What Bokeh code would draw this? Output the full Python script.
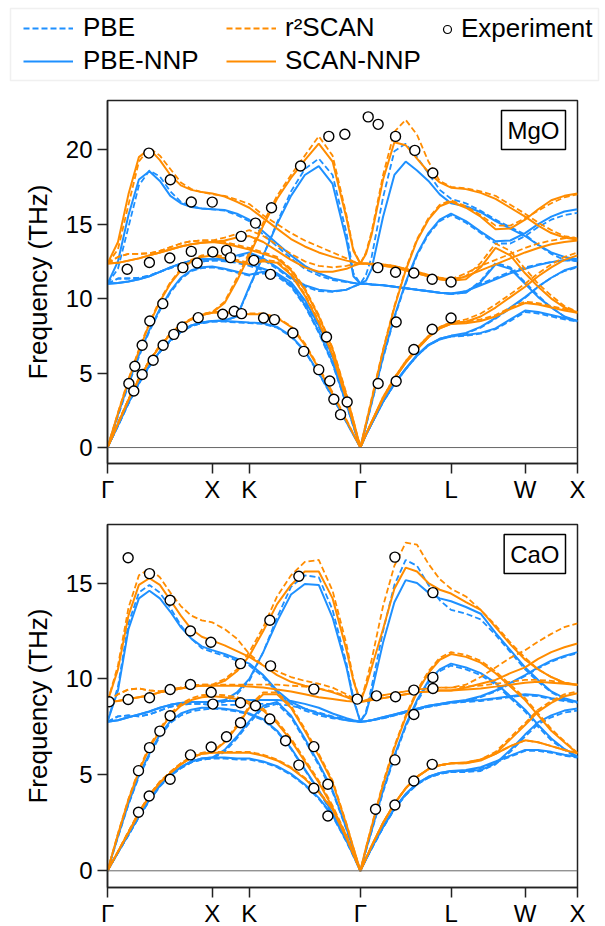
from bokeh.plotting import figure
from bokeh.models import (Range1d, FixedTicker, Span, Label, Legend, LegendItem,
                          CustomJSTickFormatter, BoxAnnotation)
from bokeh.layouts import column
from bokeh.embed import file_html
from bokeh.resources import INLINE

FONT = "Liberation Sans"
BLUE = "#1E90FF"
ORANGE = "#FF8C00"
AXIS_COLOR = "#222222"

# wave-vector path coordinates (Γ-X-K-Γ-L-W-X, units of 2π/a)
Q = [0.0, 0.1, 0.2, 0.3, 0.4, 0.5, 0.6, 0.7, 0.8, 0.9, 1.0,
     1.118, 1.236, 1.354,
     1.487, 1.619, 1.752, 1.884, 2.017, 2.149, 2.282, 2.348, 2.414,
     2.468, 2.522, 2.631, 2.739, 2.847, 2.955, 3.064, 3.172, 3.280,
     3.422, 3.563, 3.705, 3.846, 3.987,
     4.112, 4.237, 4.362, 4.487]
SYM_Q = [0.0, 1.0, 1.3536, 2.4142, 3.2802, 3.9873, 4.4873]
SYM_LABELS = ["Γ", "X", "K", "Γ", "L", "W", "X"]

# ---------------- MgO (THz) ----------------
MGO_PBE = [
    [0, 1.45, 2.95, 4.3, 5.45, 6.4, 7.15, 7.75, 8.15, 8.35, 8.45, 8.45, 8.4, 8.35, 8.3, 8.05, 7.45, 6.45, 4.95, 3.35, 1.7, 0.85, 0, 0.85, 1.6, 3.05, 4.25, 5.25, 6.15, 6.85, 7.25, 7.45, 7.5, 7.65, 7.95, 8.5, 9.1, 9.0, 8.8, 8.6, 8.45],
    [0, 1.45, 2.95, 4.3, 5.45, 6.4, 7.15, 7.75, 8.15, 8.35, 8.45, 8.5, 8.8, 10.7, 12.9, 15.1, 17.2, 18.7, 19.4, 18.3, 14.4, 11.7, 11.0, 11.6, 12.8, 16.8, 19.9, 20.4, 19.5, 18.4, 17.3, 16.7, 16.4, 15.9, 15.3, 14.8, 14.3, 13.6, 13.0, 12.6, 12.5],
    [0, 2.1, 4.2, 6.1, 7.8, 9.2, 10.4, 11.3, 11.85, 12.05, 12.1, 11.95, 11.75, 11.55, 11.7, 11.5, 10.8, 9.5, 7.7, 5.6, 2.85, 1.4, 0, 1.45, 2.95, 6.0, 8.7, 11.0, 12.9, 14.3, 15.2, 15.6, 15.1, 14.4, 13.7, 13.7, 14.2, 14.8, 15.3, 15.6, 15.75],
    [11.0, 11.35, 11.35, 11.4, 11.55, 11.8, 12.05, 12.3, 12.45, 12.5, 12.55, 12.65, 12.8, 13.0, 12.6, 12.0, 11.3, 10.8, 10.5, 10.45, 10.6, 10.8, 11.0, 11.0, 10.95, 10.9, 10.8, 10.7, 10.6, 10.5, 10.4, 10.3, 10.5, 11.0, 11.4, 11.8, 12.1, 12.3, 12.45, 12.55, 12.55],
    [11.0, 11.35, 11.35, 11.4, 11.55, 11.8, 12.05, 12.3, 12.45, 12.5, 12.55, 12.5, 12.4, 12.2, 11.9, 11.6, 11.0, 9.8, 8.1, 6.0, 3.1, 1.55, 0, 0.85, 1.6, 3.05, 4.25, 5.25, 6.15, 6.85, 7.25, 7.45, 7.65, 8.05, 8.65, 9.35, 10.05, 10.8, 11.4, 11.85, 12.1],
    [11.0, 12.0, 14.8, 17.6, 18.6, 18.2, 17.2, 16.5, 16.2, 16.05, 16.0, 15.9, 15.6, 15.2, 14.3, 13.5, 12.7, 12.0, 11.55, 11.25, 11.1, 11.05, 11.0, 11.0, 10.95, 10.9, 10.8, 10.7, 10.6, 10.5, 10.4, 10.3, 10.4, 11.2, 12.4, 12.1, 11.1, 10.2, 9.4, 8.8, 8.45],
]
MGO_PBE_NNP = [
    [0, 1.5, 3.0, 4.35, 5.5, 6.45, 7.2, 7.8, 8.2, 8.4, 8.5, 8.5, 8.45, 8.4, 8.35, 8.1, 7.5, 6.5, 5.0, 3.4, 1.7, 0.85, 0, 0.85, 1.6, 3.1, 4.3, 5.3, 6.2, 6.9, 7.3, 7.5, 7.55, 7.7, 8.0, 8.6, 9.2, 9.1, 8.9, 8.7, 8.5],
    [0, 1.5, 3.0, 4.35, 5.5, 6.45, 7.2, 7.8, 8.2, 8.4, 8.5, 8.55, 8.8, 10.8, 12.9, 15.0, 16.9, 18.3, 18.9, 17.7, 13.9, 11.5, 11.0, 11.2, 12.0, 15.5, 18.3, 19.2, 18.6, 17.9, 17.0, 16.4, 16.2, 15.8, 15.2, 14.7, 14.2, 13.6, 13.1, 12.8, 12.65],
    [0, 2.2, 4.3, 6.2, 7.9, 9.3, 10.5, 11.4, 11.9, 12.1, 12.15, 12.0, 11.8, 11.6, 11.8, 11.6, 10.9, 9.6, 7.8, 5.7, 2.9, 1.45, 0, 1.5, 3.0, 6.1, 8.8, 11.1, 13.0, 14.4, 15.3, 15.7, 15.2, 14.5, 13.85, 13.9, 14.4, 15.0, 15.5, 15.85, 16.0],
    [11.0, 11.05, 11.15, 11.3, 11.5, 11.8, 12.1, 12.35, 12.55, 12.65, 12.65, 12.75, 12.9, 13.1, 12.7, 12.1, 11.4, 10.9, 10.6, 10.5, 10.6, 10.8, 11.0, 11.0, 10.95, 10.9, 10.8, 10.7, 10.6, 10.5, 10.4, 10.35, 10.5, 10.9, 11.3, 11.7, 12.0, 12.25, 12.45, 12.6, 12.65],
    [11.0, 11.05, 11.15, 11.3, 11.5, 11.8, 12.1, 12.35, 12.55, 12.65, 12.65, 12.6, 12.5, 12.3, 12.0, 11.7, 11.1, 9.9, 8.2, 6.1, 3.2, 1.6, 0, 0.85, 1.6, 3.1, 4.3, 5.3, 6.2, 6.9, 7.3, 7.5, 7.7, 8.1, 8.7, 9.4, 10.1, 10.8, 11.4, 11.9, 12.15],
    [11.0, 12.5, 15.6, 18.0, 18.55, 17.9, 16.9, 16.4, 16.15, 16.05, 16.0, 15.95, 15.7, 15.3, 14.5, 13.7, 12.9, 12.2, 11.7, 11.35, 11.15, 11.05, 11.0, 11.0, 10.95, 10.9, 10.8, 10.7, 10.6, 10.5, 10.4, 10.35, 10.4, 11.1, 12.3, 12.0, 11.0, 10.1, 9.4, 8.8, 8.5],
]
MGO_R2SCAN = [
    [0, 1.65, 3.25, 4.65, 5.85, 6.85, 7.65, 8.25, 8.65, 8.95, 9.1, 9.1, 9.05, 9.0, 9.0, 8.75, 8.15, 7.0, 5.4, 3.7, 1.85, 0.9, 0, 0.9, 1.75, 3.4, 4.7, 5.8, 6.7, 7.5, 8.1, 8.4, 8.45, 8.6, 8.9, 9.4, 9.8, 9.7, 9.5, 9.3, 9.1],
    [0, 1.65, 3.25, 4.65, 5.85, 6.85, 7.65, 8.25, 8.65, 8.95, 9.1, 9.8, 11.4, 13.1, 15.1, 16.9, 18.3, 19.6, 20.9, 19.6, 15.6, 13.3, 12.35, 13.1, 14.5, 18.3, 21.2, 22.0, 21.0, 19.2, 17.9, 17.5, 17.4, 17.2, 16.9, 16.3, 15.7, 15.1, 14.6, 14.2, 14.05],
    [0, 2.35, 4.6, 6.6, 8.4, 9.9, 11.1, 12.0, 12.6, 12.9, 13.0, 12.8, 12.6, 12.4, 12.6, 12.5, 11.7, 10.3, 8.5, 6.3, 3.3, 1.65, 0, 1.65, 3.3, 6.6, 9.5, 12.0, 14.0, 15.4, 16.3, 16.6, 16.2, 15.6, 14.9, 14.9, 15.4, 15.9, 16.4, 16.8, 17.0],
    [12.35, 12.8, 13.0, 13.0, 13.05, 13.2, 13.45, 13.7, 13.85, 13.9, 13.9, 14.1, 14.35, 14.6, 14.2, 13.6, 13.0, 12.5, 12.2, 12.1, 12.2, 12.3, 12.35, 12.35, 12.35, 12.3, 12.2, 12.0, 11.8, 11.6, 11.4, 11.3, 11.7, 12.2, 12.6, 13.0, 13.4, 13.7, 13.9, 14.05, 14.1],
    [12.35, 12.8, 13.0, 13.0, 13.05, 13.2, 13.45, 13.7, 13.85, 13.9, 13.9, 13.8, 13.6, 13.4, 13.1, 12.8, 12.0, 10.7, 8.9, 6.7, 3.6, 1.8, 0, 0.9, 1.75, 3.4, 4.7, 5.8, 6.7, 7.5, 8.1, 8.4, 8.6, 9.0, 9.6, 10.3, 11.0, 11.7, 12.3, 12.8, 13.1],
    [12.35, 13.3, 16.3, 19.2, 20.1, 19.6, 18.7, 17.8, 17.35, 17.15, 17.0, 16.9, 16.65, 16.35, 15.6, 15.0, 14.4, 13.9, 13.5, 13.1, 12.7, 12.5, 12.35, 12.35, 12.35, 12.3, 12.2, 12.0, 11.8, 11.6, 11.4, 11.3, 11.5, 12.4, 13.7, 13.2, 12.0, 11.0, 10.2, 9.5, 9.1],
]
MGO_SCAN_NNP = [
    [0, 1.6, 3.2, 4.6, 5.8, 6.8, 7.6, 8.2, 8.6, 8.9, 9.05, 9.05, 9.0, 8.95, 8.95, 8.7, 8.1, 6.9, 5.3, 3.6, 1.8, 0.9, 0, 0.9, 1.7, 3.3, 4.6, 5.7, 6.6, 7.4, 8.0, 8.3, 8.35, 8.5, 8.8, 9.3, 9.7, 9.6, 9.4, 9.2, 9.05],
    [0, 1.6, 3.2, 4.6, 5.8, 6.8, 7.6, 8.2, 8.6, 8.9, 9.05, 9.7, 11.2, 12.9, 14.9, 16.7, 18.1, 19.3, 20.4, 19.2, 15.4, 13.2, 12.35, 13.0, 14.3, 18.0, 20.5, 20.3, 19.4, 18.5, 17.8, 17.45, 17.35, 17.1, 16.7, 16.1, 15.5, 14.9, 14.4, 14.1, 13.95],
    [0, 2.3, 4.5, 6.5, 8.3, 9.8, 11.0, 11.9, 12.5, 12.8, 12.9, 12.7, 12.5, 12.3, 12.5, 12.4, 11.6, 10.2, 8.4, 6.2, 3.2, 1.6, 0, 1.6, 3.2, 6.5, 9.4, 11.9, 13.9, 15.3, 16.2, 16.5, 16.1, 15.5, 14.65, 14.7, 15.3, 16.0, 16.6, 16.9, 17.05],
    [12.35, 12.4, 12.55, 12.7, 12.9, 13.1, 13.3, 13.5, 13.65, 13.75, 13.8, 13.9, 14.1, 14.2, 13.8, 13.2, 12.6, 12.1, 11.8, 11.8, 12.0, 12.2, 12.35, 12.35, 12.3, 12.2, 12.1, 11.9, 11.7, 11.5, 11.3, 11.2, 11.5, 11.9, 12.3, 12.7, 13.1, 13.4, 13.65, 13.8, 13.9],
    [12.35, 12.4, 12.55, 12.7, 12.9, 13.1, 13.3, 13.5, 13.65, 13.75, 13.8, 13.7, 13.5, 13.3, 13.0, 12.7, 11.9, 10.6, 8.8, 6.6, 3.5, 1.8, 0, 0.9, 1.7, 3.3, 4.6, 5.7, 6.6, 7.4, 8.0, 8.3, 8.45, 8.8, 9.4, 10.1, 10.8, 11.5, 12.1, 12.6, 12.9],
    [12.35, 13.8, 17.0, 19.5, 20.05, 19.3, 18.3, 17.6, 17.3, 17.15, 17.05, 16.85, 16.5, 16.1, 15.4, 14.7, 14.0, 13.5, 13.1, 12.8, 12.55, 12.45, 12.35, 12.35, 12.3, 12.2, 12.1, 11.9, 11.7, 11.5, 11.3, 11.2, 11.3, 12.1, 13.4, 12.9, 11.7, 10.8, 10.0, 9.4, 9.05],
]
MGO_EXP_Q = [0.188, 0.395, 0.40, 0.60, 0.595, 0.80, 0.80, 0.72, 0.856,
             0.204, 0.261, 0.331, 0.404, 0.528,
             0.251, 0.331, 0.436, 0.531, 0.633, 0.713, 0.866,
             1.0, 1.005, 1.136, 1.174, 1.276, 1.413, 1.397, 1.566, 1.556, 1.843, 2.113, 2.266,
             1.10, 1.21, 1.28, 1.49, 1.594, 1.77, 2.091, 1.874, 2.017, 2.122, 2.161, 2.288, 2.225,
             2.489, 2.584, 2.75, 2.934, 3.106,
             2.581, 2.75, 2.925, 3.10, 3.28,
             2.756, 2.584, 2.756, 2.925, 3.10, 3.28]
MGO_EXP_F = [11.97, 19.77, 12.42, 17.98, 12.73, 16.49, 13.17, 12.08, 12.39,
             4.30, 5.46, 6.87, 8.50, 9.66,
             3.80, 4.90, 5.86, 6.87, 7.60, 8.09, 8.72,
             16.48, 13.13, 13.24, 12.75, 14.18, 15.07, 12.57, 16.1, 11.63, 18.9, 20.89, 21.03,
             8.95, 9.15, 8.99, 8.70, 8.59, 7.69, 7.42, 6.46, 5.23, 4.47, 3.24, 3.06, 2.21,
             22.2, 21.70, 20.89, 19.95, 18.43,
             12.08, 11.77, 11.72, 11.30, 11.11,
             8.43, 4.30, 4.45, 6.58, 7.94, 8.70]

# ---------------- CaO (THz) ----------------
CAO_PBE = [
    [0, 0.95, 1.85, 2.8, 3.65, 4.4, 4.95, 5.35, 5.65, 5.8, 5.85, 5.85, 5.8, 5.8, 5.65, 5.4, 5.0, 4.45, 3.75, 2.85, 1.5, 0.75, 0, 0.6, 1.15, 2.25, 3.2, 3.95, 4.5, 4.85, 5.05, 5.15, 5.2, 5.35, 5.65, 5.95, 6.25, 6.25, 6.15, 6.0, 5.9],
    [0, 0.95, 1.85, 2.8, 3.65, 4.4, 4.95, 5.35, 5.65, 5.8, 5.85, 6.2, 6.9, 7.7, 8.5, 8.7, 8.0, 6.8, 5.5, 4.1, 2.15, 1.05, 0, 0.6, 1.15, 2.25, 3.2, 3.95, 4.5, 4.85, 5.05, 5.15, 5.15, 5.2, 5.55, 6.2, 7.0, 7.65, 8.0, 8.25, 8.35],
    [0, 1.75, 3.45, 4.9, 6.0, 7.0, 7.7, 8.1, 8.3, 8.4, 8.45, 8.4, 8.3, 8.15, 7.85, 7.25, 6.35, 5.25, 4.15, 2.95, 1.65, 0.8, 0, 1.05, 2.05, 4.1, 5.9, 7.5, 8.8, 9.8, 10.4, 10.7, 10.5, 10.2, 9.7, 9.0, 8.3, 7.5, 6.8, 6.3, 5.9],
    [7.77, 8.05, 8.1, 8.05, 8.15, 8.35, 8.55, 8.65, 8.7, 8.7, 8.65, 8.8, 9.2, 9.9, 11.4, 13.2, 14.8, 15.4, 15.3, 13.6, 10.8, 9.0, 7.77, 8.3, 9.6, 12.5, 14.9, 16.2, 15.9, 14.9, 14.1, 13.6, 13.4, 13.1, 12.3, 11.4, 10.5, 9.85, 9.3, 8.95, 8.75],
    [7.77, 8.05, 8.1, 8.05, 8.15, 8.35, 8.55, 8.65, 8.7, 8.7, 8.65, 8.65, 8.65, 8.7, 8.7, 8.7, 8.6, 8.45, 8.25, 8.05, 7.9, 7.82, 7.77, 7.8, 7.85, 7.95, 8.1, 8.25, 8.4, 8.55, 8.65, 8.75, 8.8, 8.85, 8.95, 9.05, 9.15, 9.1, 8.95, 8.85, 8.75],
    [7.77, 9.6, 12.9, 14.5, 14.9, 14.5, 13.7, 12.8, 12.1, 11.6, 11.4, 11.2, 10.95, 10.7, 10.1, 9.3, 8.7, 8.35, 8.1, 7.95, 7.85, 7.8, 7.77, 7.8, 7.85, 7.95, 8.1, 8.25, 8.4, 8.55, 8.65, 8.75, 8.85, 9.05, 9.35, 9.75, 10.15, 10.55, 10.9, 11.15, 11.35],
]
CAO_PBE_NNP = [
    [0, 0.95, 1.9, 2.85, 3.7, 4.45, 5.0, 5.4, 5.7, 5.85, 5.9, 5.9, 5.85, 5.85, 5.7, 5.45, 5.05, 4.5, 3.8, 2.9, 1.55, 0.8, 0, 0.6, 1.2, 2.3, 3.25, 4.0, 4.55, 4.9, 5.1, 5.2, 5.25, 5.4, 5.7, 6.0, 6.3, 6.3, 6.2, 6.05, 5.95],
    [0, 0.95, 1.9, 2.85, 3.7, 4.45, 5.0, 5.4, 5.7, 5.85, 5.9, 6.3, 7.0, 7.8, 8.6, 8.8, 8.1, 6.9, 5.6, 4.2, 2.2, 1.1, 0, 0.6, 1.2, 2.3, 3.25, 4.0, 4.55, 4.9, 5.1, 5.2, 5.2, 5.25, 5.6, 6.3, 7.1, 7.75, 8.1, 8.35, 8.46],
    [0, 1.8, 3.5, 5.0, 6.1, 7.1, 7.8, 8.2, 8.4, 8.5, 8.5, 8.45, 8.35, 8.2, 7.9, 7.3, 6.4, 5.3, 4.2, 3.0, 1.7, 0.85, 0, 1.1, 2.1, 4.2, 6.0, 7.6, 8.9, 9.9, 10.5, 10.8, 10.6, 10.3, 9.8, 9.1, 8.4, 7.6, 6.9, 6.35, 5.95],
    [7.77, 7.85, 8.0, 8.15, 8.3, 8.5, 8.65, 8.75, 8.8, 8.8, 8.8, 8.9, 9.3, 10.0, 11.4, 13.0, 14.4, 14.95, 14.9, 13.2, 10.6, 8.9, 7.77, 8.2, 9.3, 11.9, 14.0, 15.15, 15.0, 14.5, 14.2, 14.05, 13.75, 13.4, 12.4, 11.5, 10.6, 9.95, 9.35, 9.0, 8.8],
    [7.77, 7.85, 8.0, 8.15, 8.3, 8.5, 8.65, 8.75, 8.8, 8.8, 8.8, 8.85, 8.85, 8.9, 8.9, 8.9, 8.85, 8.7, 8.5, 8.2, 7.95, 7.85, 7.77, 7.8, 7.85, 8.0, 8.15, 8.3, 8.45, 8.6, 8.7, 8.8, 8.85, 8.9, 9.0, 9.1, 9.2, 9.15, 9.0, 8.9, 8.8],
    [7.77, 9.4, 12.6, 14.2, 14.6, 14.2, 13.5, 12.7, 12.1, 11.7, 11.5, 11.3, 11.05, 10.8, 10.2, 9.4, 8.8, 8.45, 8.2, 8.0, 7.85, 7.8, 7.77, 7.8, 7.85, 8.0, 8.15, 8.3, 8.45, 8.6, 8.7, 8.8, 8.9, 9.1, 9.4, 9.8, 10.2, 10.6, 10.95, 11.2, 11.4],
]
CAO_R2SCAN = [
    [0, 1.0, 2.05, 3.05, 3.95, 4.65, 5.15, 5.6, 5.95, 6.15, 6.2, 6.2, 6.2, 6.2, 6.05, 5.8, 5.4, 4.85, 4.15, 3.25, 1.75, 0.85, 0, 0.65, 1.3, 2.5, 3.5, 4.3, 4.9, 5.3, 5.5, 5.6, 5.65, 5.8, 6.1, 6.5, 6.8, 6.7, 6.5, 6.3, 6.15],
    [0, 1.0, 2.05, 3.05, 3.95, 4.65, 5.15, 5.6, 5.95, 6.15, 6.2, 6.75, 7.6, 8.6, 9.3, 9.3, 8.6, 7.4, 6.1, 4.7, 2.45, 1.2, 0, 0.65, 1.3, 2.5, 3.5, 4.3, 4.9, 5.3, 5.5, 5.6, 5.6, 5.8, 6.2, 6.95, 7.7, 8.4, 8.85, 9.2, 9.35],
    [0, 1.95, 3.75, 5.3, 6.5, 7.4, 8.2, 8.7, 9.0, 9.15, 9.2, 9.15, 9.05, 8.8, 8.45, 7.8, 6.9, 5.8, 4.7, 3.4, 1.85, 0.9, 0, 1.2, 2.35, 4.6, 6.5, 8.1, 9.4, 10.4, 11.1, 11.4, 11.25, 10.95, 10.4, 9.7, 9.0, 8.2, 7.4, 6.75, 6.15],
    [8.81, 9.2, 9.45, 9.5, 9.4, 9.35, 9.45, 9.55, 9.65, 9.7, 9.7, 10.0, 10.5, 11.4, 12.7, 14.3, 15.4, 16.1, 16.2, 14.6, 11.8, 10.0, 8.81, 9.8, 11.0, 13.8, 15.9, 17.1, 17.0, 16.0, 15.2, 14.7, 14.3, 13.6, 12.8, 11.9, 11.1, 10.5, 10.1, 9.8, 9.7],
    [8.81, 9.2, 9.45, 9.5, 9.4, 9.35, 9.45, 9.55, 9.65, 9.7, 9.7, 9.7, 9.7, 9.7, 9.7, 9.7, 9.65, 9.6, 9.5, 9.35, 9.1, 8.95, 8.81, 8.9, 9.0, 9.15, 9.25, 9.35, 9.45, 9.5, 9.55, 9.55, 9.6, 9.65, 9.75, 9.85, 9.95, 9.95, 9.9, 9.8, 9.7],
    [8.81, 10.7, 13.7, 15.4, 15.75, 15.3, 14.5, 13.8, 13.3, 13.05, 12.95, 12.6, 12.1, 11.3, 10.7, 10.4, 10.1, 9.9, 9.75, 9.55, 9.2, 9.0, 8.81, 8.9, 9.0, 9.15, 9.25, 9.35, 9.45, 9.5, 9.55, 9.55, 9.7, 10.1, 10.6, 11.1, 11.5, 11.95, 12.35, 12.7, 12.9],
]
CAO_SCAN_NNP = [
    [0, 1.0, 2.0, 3.0, 3.9, 4.6, 5.1, 5.55, 5.9, 6.1, 6.15, 6.15, 6.15, 6.15, 6.0, 5.75, 5.35, 4.8, 4.1, 3.2, 1.7, 0.85, 0, 0.65, 1.3, 2.5, 3.5, 4.3, 4.9, 5.3, 5.5, 5.6, 5.65, 5.8, 6.1, 6.5, 6.8, 6.7, 6.5, 6.3, 6.12],
    [0, 1.0, 2.0, 3.0, 3.9, 4.6, 5.1, 5.55, 5.9, 6.1, 6.15, 6.7, 7.5, 8.5, 9.2, 9.2, 8.5, 7.3, 6.0, 4.6, 2.4, 1.2, 0, 0.65, 1.3, 2.5, 3.5, 4.3, 4.9, 5.3, 5.5, 5.6, 5.6, 5.75, 6.1, 6.85, 7.6, 8.3, 8.75, 9.1, 9.25],
    [0, 1.9, 3.7, 5.2, 6.4, 7.3, 8.1, 8.6, 8.9, 9.05, 9.1, 9.05, 8.95, 8.7, 8.35, 7.7, 6.8, 5.7, 4.6, 3.3, 1.8, 0.9, 0, 1.2, 2.3, 4.5, 6.4, 8.0, 9.3, 10.3, 11.0, 11.3, 11.15, 10.85, 10.3, 9.6, 8.9, 8.1, 7.3, 6.7, 6.12],
    [8.81, 8.85, 8.95, 9.05, 9.15, 9.3, 9.4, 9.5, 9.6, 9.65, 9.65, 9.9, 10.4, 11.2, 12.5, 13.9, 14.9, 15.6, 15.6, 14.2, 11.5, 9.9, 8.81, 9.6, 10.6, 12.6, 14.7, 15.8, 15.6, 15.0, 14.65, 14.45, 14.0, 13.6, 12.7, 11.8, 11.0, 10.5, 10.1, 9.8, 9.68],
    [8.81, 8.85, 8.95, 9.05, 9.15, 9.3, 9.4, 9.5, 9.6, 9.65, 9.65, 9.65, 9.65, 9.6, 9.55, 9.45, 9.35, 9.2, 9.05, 8.95, 8.85, 8.83, 8.81, 8.85, 8.9, 9.0, 9.1, 9.2, 9.3, 9.35, 9.4, 9.4, 9.45, 9.5, 9.6, 9.7, 9.8, 9.85, 9.8, 9.75, 9.68],
    [8.81, 10.5, 13.3, 14.9, 15.25, 14.9, 14.1, 13.3, 12.6, 12.2, 12.0, 11.75, 11.45, 11.15, 10.7, 10.2, 9.85, 9.65, 9.5, 9.3, 9.05, 8.9, 8.81, 8.85, 8.9, 9.0, 9.1, 9.2, 9.3, 9.35, 9.4, 9.4, 9.55, 9.75, 9.95, 10.3, 10.6, 11.05, 11.4, 11.65, 11.85],
]
CAO_EXP_Q = [0.197, 0.401, 0.598, 0.792, 0.987,
             0.016, 0.197, 0.401, 0.598, 0.792, 0.99, 1.006, 1.27, 1.27, 1.27, 1.136, 0.99, 0.792, 0.598, 0.398, 0.296, 0.296, 0.401, 0.50, 0.598,
             1.55, 1.827, 1.557, 1.413, 1.55, 1.70, 1.97, 1.827, 1.97, 2.104, 2.104, 1.97, 2.384, 2.568, 2.559,
             2.75, 2.925, 3.107, 3.107, 2.925, 2.744, 2.744, 2.925, 3.10, 2.744, 3.107]
CAO_EXP_F = [16.32, 15.49, 14.10, 12.50, 11.91,
             8.81, 8.93, 9.02, 9.45, 9.71, 9.31, 8.69, 8.76, 10.8, 7.72, 6.99, 6.45, 6.04, 4.77, 3.90, 3.05, 5.22, 6.42, 7.28, 8.08,
             13.06, 15.35, 10.68, 8.60, 7.91, 6.78, 6.47, 5.51, 4.30, 4.51, 2.86, 9.47, 8.95, 9.12, 3.21,
             9.07, 9.42, 10.08, 9.5, 8.15, 5.78, 3.43, 4.68, 5.55, 16.35, 14.5]

SERIES = [("PBE", BLUE, "6 3", 1.8), ("PBE-NNP", BLUE, "solid", 2.0),
          ("r²SCAN", ORANGE, "6 3", 1.8), ("SCAN-NNP", ORANGE, "solid", 2.0)]

for group in (MGO_PBE, MGO_PBE_NNP, MGO_R2SCAN, MGO_SCAN_NNP,
              CAO_PBE, CAO_PBE_NNP, CAO_R2SCAN, CAO_SCAN_NNP):
    for band in group:
        assert len(band) == len(Q), len(band)
assert len(MGO_EXP_Q) == len(MGO_EXP_F)
assert len(CAO_EXP_Q) == len(CAO_EXP_F)

NAN = float("nan")


def make_panel(name, series_bands, exp_q, exp_f, ymin, ymax, yticks, top, bottom):
    p = figure(frame_width=470, frame_height=363,
               x_range=Range1d(0, SYM_Q[-1]), y_range=Range1d(ymin, ymax),
               output_backend="svg", toolbar_location=None,
               min_border_left=107, min_border_right=28,
               min_border_top=top, min_border_bottom=bottom)
    p.grid.visible = False
    p.outline_line_color = AXIS_COLOR
    p.outline_line_width = 1.5
    p.add_layout(Span(location=0, dimension="width", line_color="#666666", line_width=1))
    for (lbl, color, dash, lw), bands in zip(SERIES, series_bands):
        p.multi_line(xs=[Q] * len(bands), ys=bands, line_color=color,
                     line_dash=dash, line_width=lw)
    p.scatter(exp_q, exp_f, size=10, marker="circle", fill_color="white",
              line_color="black", line_width=1.4)

    for ax in (p.xaxis[0], p.yaxis[0]):
        ax.axis_line_color = AXIS_COLOR
        ax.axis_line_width = 1.5
        ax.major_tick_line_color = AXIS_COLOR
        ax.major_tick_line_width = 1.5
        ax.major_tick_out = 10
        ax.major_tick_in = 0
        ax.minor_tick_line_color = None
        ax.major_label_text_font = FONT
        ax.major_label_text_font_size = "24px"
        ax.major_label_text_color = "black"

    xa = p.xaxis[0]
    xa.ticker = FixedTicker(ticks=SYM_Q)
    xa.formatter = CustomJSTickFormatter(args=dict(pos=SYM_Q, lab=SYM_LABELS), code="""
        let best = 0; let d = 1e9;
        for (let i = 0; i < pos.length; i++) {
            const dd = Math.abs(pos[i] - tick);
            if (dd < d) { d = dd; best = i; }
        }
        return lab[best];
    """)
    xa.major_label_standoff = 2

    ya = p.yaxis[0]
    ya.ticker = FixedTicker(ticks=yticks)
    ya.major_label_standoff = 5
    ya.axis_label = "Frequency (THz)"
    ya.axis_label_text_font = FONT
    ya.axis_label_text_font_size = "26px"
    ya.axis_label_text_font_style = "normal"
    ya.axis_label_text_color = "black"
    ya.axis_label_standoff = 10

    p.add_layout(Label(x=SYM_Q[-1], y=ymax, x_offset=-12, y_offset=-10, text=name,
                       text_font=FONT, text_font_size="24px", text_color="black",
                       text_align="right", text_baseline="top",
                       background_fill_color="white", border_line_color="black",
                       border_line_width=1.5, padding=6))
    return p


# ---------------- legend strip (frame == whole 605x86 canvas, page-like pixel ranges) -----
LEG_W, LEG_H = 605, 86
lf = figure(frame_width=LEG_W, frame_height=LEG_H,
            x_range=Range1d(0, LEG_W), y_range=Range1d(LEG_H, 0),
            output_backend="svg", toolbar_location=None,
            min_border_left=0, min_border_right=0, min_border_top=0, min_border_bottom=0)
lf.frame_align = False
lf.axis.visible = False
lf.grid.visible = False
lf.outline_line_color = None
lf.add_layout(BoxAnnotation(left=10, right=598, top=8, bottom=80, fill_alpha=0,
                            line_color="#cccccc", line_width=1.5))

leg_r = []
for lbl, color, dash, lw in SERIES:
    leg_r.append(lf.line(x=[NAN, NAN], y=[NAN, NAN], line_color=color, line_dash=dash,
                         line_width=lw))
exp_r = lf.scatter(x=[NAN], y=[NAN], marker="circle", size=8, fill_color="white",
                   line_color="black", line_width=1.2)


def make_legend(items, loc, glyph_w, standoff):
    return Legend(items=items, location=loc, orientation="vertical",
                  glyph_width=glyph_w, glyph_height=30, label_height=30,
                  label_standoff=standoff, spacing=2, padding=0, margin=0,
                  border_line_color=None, background_fill_alpha=0,
                  label_text_font=FONT, label_text_font_size="26px",
                  label_text_color="black")


lf.add_layout(make_legend([LegendItem(label=SERIES[0][0], renderers=[leg_r[0]]),
                           LegendItem(label=SERIES[1][0], renderers=[leg_r[1]])], (23, 10), 50, 10))
lf.add_layout(make_legend([LegendItem(label=SERIES[2][0], renderers=[leg_r[2]]),
                           LegendItem(label=SERIES[3][0], renderers=[leg_r[3]])], (226, 10), 50, 9))
lf.add_layout(make_legend([LegendItem(label="Experiment", renderers=[exp_r])], (437, 42), 20, 4))

p1 = make_panel("MgO", [MGO_PBE, MGO_PBE_NNP, MGO_R2SCAN, MGO_SCAN_NNP],
                MGO_EXP_Q, MGO_EXP_F, -1.07, 23.3, [0, 5, 10, 15, 20], 14, 42)
p2 = make_panel("CaO", [CAO_PBE, CAO_PBE_NNP, CAO_R2SCAN, CAO_SCAN_NNP],
                CAO_EXP_Q, CAO_EXP_F, -0.87, 18.05, [0, 5, 10, 15], 19, 39)

layout = column(lf, p1, p2, spacing=0)
open("out.html", "w").write(file_html(layout, INLINE))
